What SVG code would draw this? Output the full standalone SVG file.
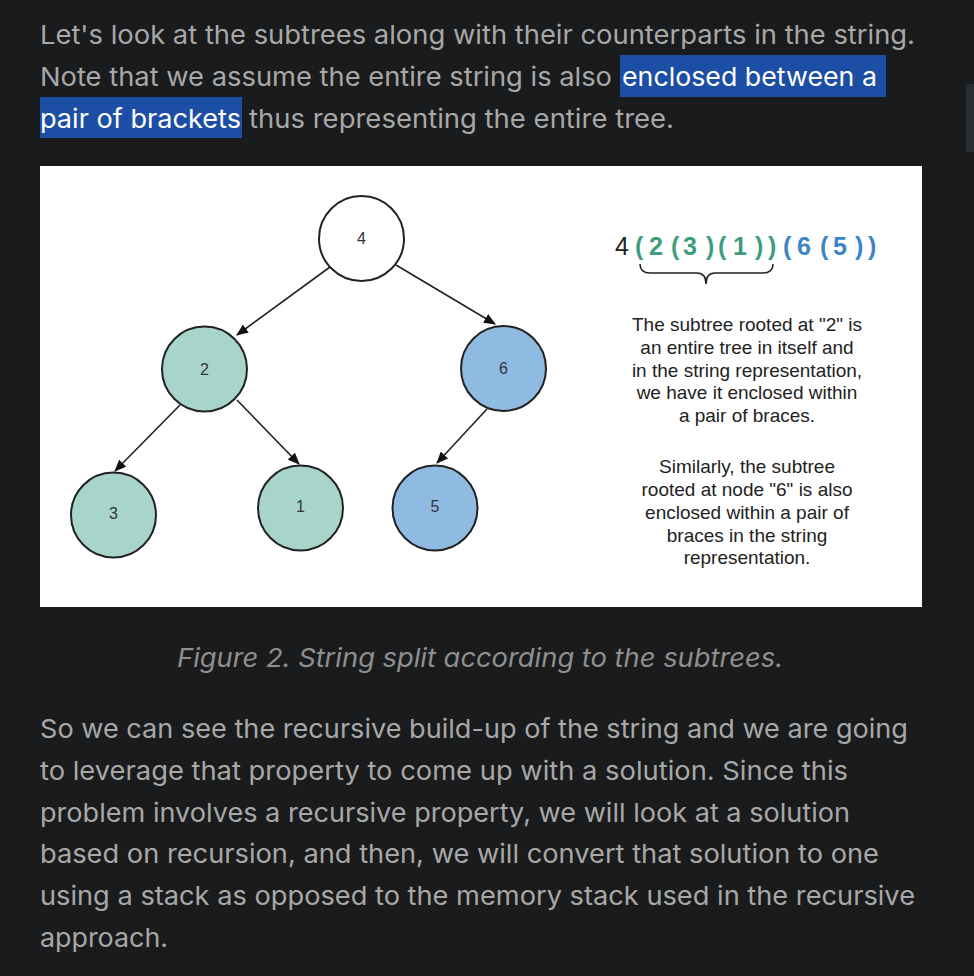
<svg xmlns="http://www.w3.org/2000/svg" width="974" height="976" viewBox="0 0 974 976">
<style>
.body{font-family:Inter,"Noto Sans","Liberation Sans",sans-serif;font-size:26px;fill:#a8a8a8}
.hl{fill:#ffffff}
.cap{font-family:Inter,"Noto Sans","Liberation Sans",sans-serif;font-size:26px;font-style:italic;fill:#8f8f8f}
.node circle{stroke:#222;stroke-width:2}
.green{fill:#a8d5cb}
.blue{fill:#8fbbe3}
.white{fill:#ffffff}
.lbl{font-family:"Liberation Sans",Arial,sans-serif;font-size:16px;fill:#333;text-anchor:middle}
.note{font-family:"Liberation Sans",Arial,sans-serif;font-size:19px;fill:#222;text-anchor:middle}
.edge{stroke:#222;stroke-width:1.6;fill:none;marker-end:url(#arr)}
.str{font-family:"Liberation Sans",Arial,sans-serif;font-size:25px}
.g{fill:#3f9c80;font-weight:bold}
.b{fill:#3b85c5;font-weight:bold}
</style>
<defs>
<marker id="arr" viewBox="0 0 12 10" refX="11" refY="5" markerWidth="12" markerHeight="10" markerUnits="userSpaceOnUse" orient="auto">
<path d="M0,0 L12,5 L0,10 z" fill="#111"/>
</marker>
</defs>
<rect x="0" y="0" width="974" height="976" fill="#1a1b1d"/>
<rect x="966" y="84" width="8" height="68" fill="#2b2e31"/>
<g id="intro">
<text class="body" x="40" y="44" textLength="875" lengthAdjust="spacingAndGlyphs">Let's look at the subtrees along with their counterparts in the string.</text>
<text class="body" x="40" y="86" textLength="572" lengthAdjust="spacingAndGlyphs">Note that we assume the entire string is also</text>
<rect x="620" y="55" width="266" height="42" fill="#1c4ea6"/>
<text class="body hl" x="622" y="86" textLength="255" lengthAdjust="spacingAndGlyphs">enclosed between a</text>
<rect x="40" y="97" width="202" height="41" fill="#1c4ea6"/>
<text class="body hl" x="40" y="128" textLength="201" lengthAdjust="spacingAndGlyphs">pair of brackets</text>
<text class="body" x="249" y="128" textLength="425" lengthAdjust="spacingAndGlyphs">thus representing the entire tree.</text>
</g>
<rect x="40" y="166" width="882" height="441" fill="#ffffff"/>
<g id="connectors">
<line class="edge" x1="330" y1="267" x2="237" y2="335"/>
<line class="edge" x1="396" y1="265" x2="495" y2="324"/>
<line class="edge" x1="180" y1="405" x2="115" y2="471"/>
<line class="edge" x1="237" y1="400" x2="299" y2="464"/>
<line class="edge" x1="487" y1="409" x2="437" y2="463"/>
</g>
<g id="node4" class="node"><circle class="white" cx="361.5" cy="238.5" r="42.5"/><text class="lbl" x="361.5" y="243.5">4</text></g>
<g id="node2" class="node"><circle class="green" cx="204.5" cy="369" r="42.5"/><text class="lbl" x="204.5" y="374.5">2</text></g>
<g id="node6" class="node"><circle class="blue" cx="503.5" cy="368.5" r="42.5"/><text class="lbl" x="503.5" y="373.5">6</text></g>
<g id="node3" class="node"><circle class="green" cx="113.5" cy="515" r="42.5"/><text class="lbl" x="113.5" y="519">3</text></g>
<g id="node1" class="node"><circle class="green" cx="300.5" cy="508" r="42.5"/><text class="lbl" x="300.5" y="512">1</text></g>
<g id="node5" class="node"><circle class="blue" cx="435" cy="508" r="42.5"/><text class="lbl" x="435" y="512">5</text></g>
<g id="string">
<text class="str" y="255"><tspan x="615" fill="#222">4</tspan><tspan class="g" x="635">(</tspan><tspan class="g" x="649">2</tspan><tspan class="g" x="671">(</tspan><tspan class="g" x="683">3</tspan><tspan class="g" x="706">)</tspan><tspan class="g" x="718">(</tspan><tspan class="g" x="733">1</tspan><tspan class="g" x="755">)</tspan><tspan class="g" x="768">)</tspan><tspan class="b" x="783">(</tspan><tspan class="b" x="797">6</tspan><tspan class="b" x="820">(</tspan><tspan class="b" x="833">5</tspan><tspan class="b" x="855">)</tspan><tspan class="b" x="868">)</tspan></text>
<path d="M640,264 Q640,273 650,273 L697,273 Q706,273 706,284 Q706,273 715,273 L763,273 Q773,273 773,264" fill="none" stroke="#222" stroke-width="1.6"/>
</g>
<g id="note">
<text class="note" x="747" y="331">The subtree rooted at "2" is</text>
<text class="note" x="747" y="354">an entire tree in itself and</text>
<text class="note" x="747" y="377">in the string representation,</text>
<text class="note" x="747" y="399">we have it enclosed within</text>
<text class="note" x="747" y="422">a pair of braces.</text>
<text class="note" x="747" y="473">Similarly, the subtree</text>
<text class="note" x="747" y="496">rooted at node "6" is also</text>
<text class="note" x="747" y="519">enclosed within a pair of</text>
<text class="note" x="747" y="542">braces in the string</text>
<text class="note" x="747" y="564">representation.</text>
</g>
<text class="cap" x="177" y="667" textLength="606" lengthAdjust="spacingAndGlyphs">Figure 2. String split according to the subtrees.</text>
<g id="para">
<text class="body" x="40" y="738" textLength="868" lengthAdjust="spacingAndGlyphs">So we can see the recursive build-up of the string and we are going</text>
<text class="body" x="40" y="780" textLength="808" lengthAdjust="spacingAndGlyphs">to leverage that property to come up with a solution. Since this</text>
<text class="body" x="40" y="822" textLength="810" lengthAdjust="spacingAndGlyphs">problem involves a recursive property, we will look at a solution</text>
<text class="body" x="40" y="863" textLength="839" lengthAdjust="spacingAndGlyphs">based on recursion, and then, we will convert that solution to one</text>
<text class="body" x="40" y="905" textLength="875" lengthAdjust="spacingAndGlyphs">using a stack as opposed to the memory stack used in the recursive</text>
<text class="body" x="40" y="947" textLength="128" lengthAdjust="spacingAndGlyphs">approach.</text>
</g>
</svg>
